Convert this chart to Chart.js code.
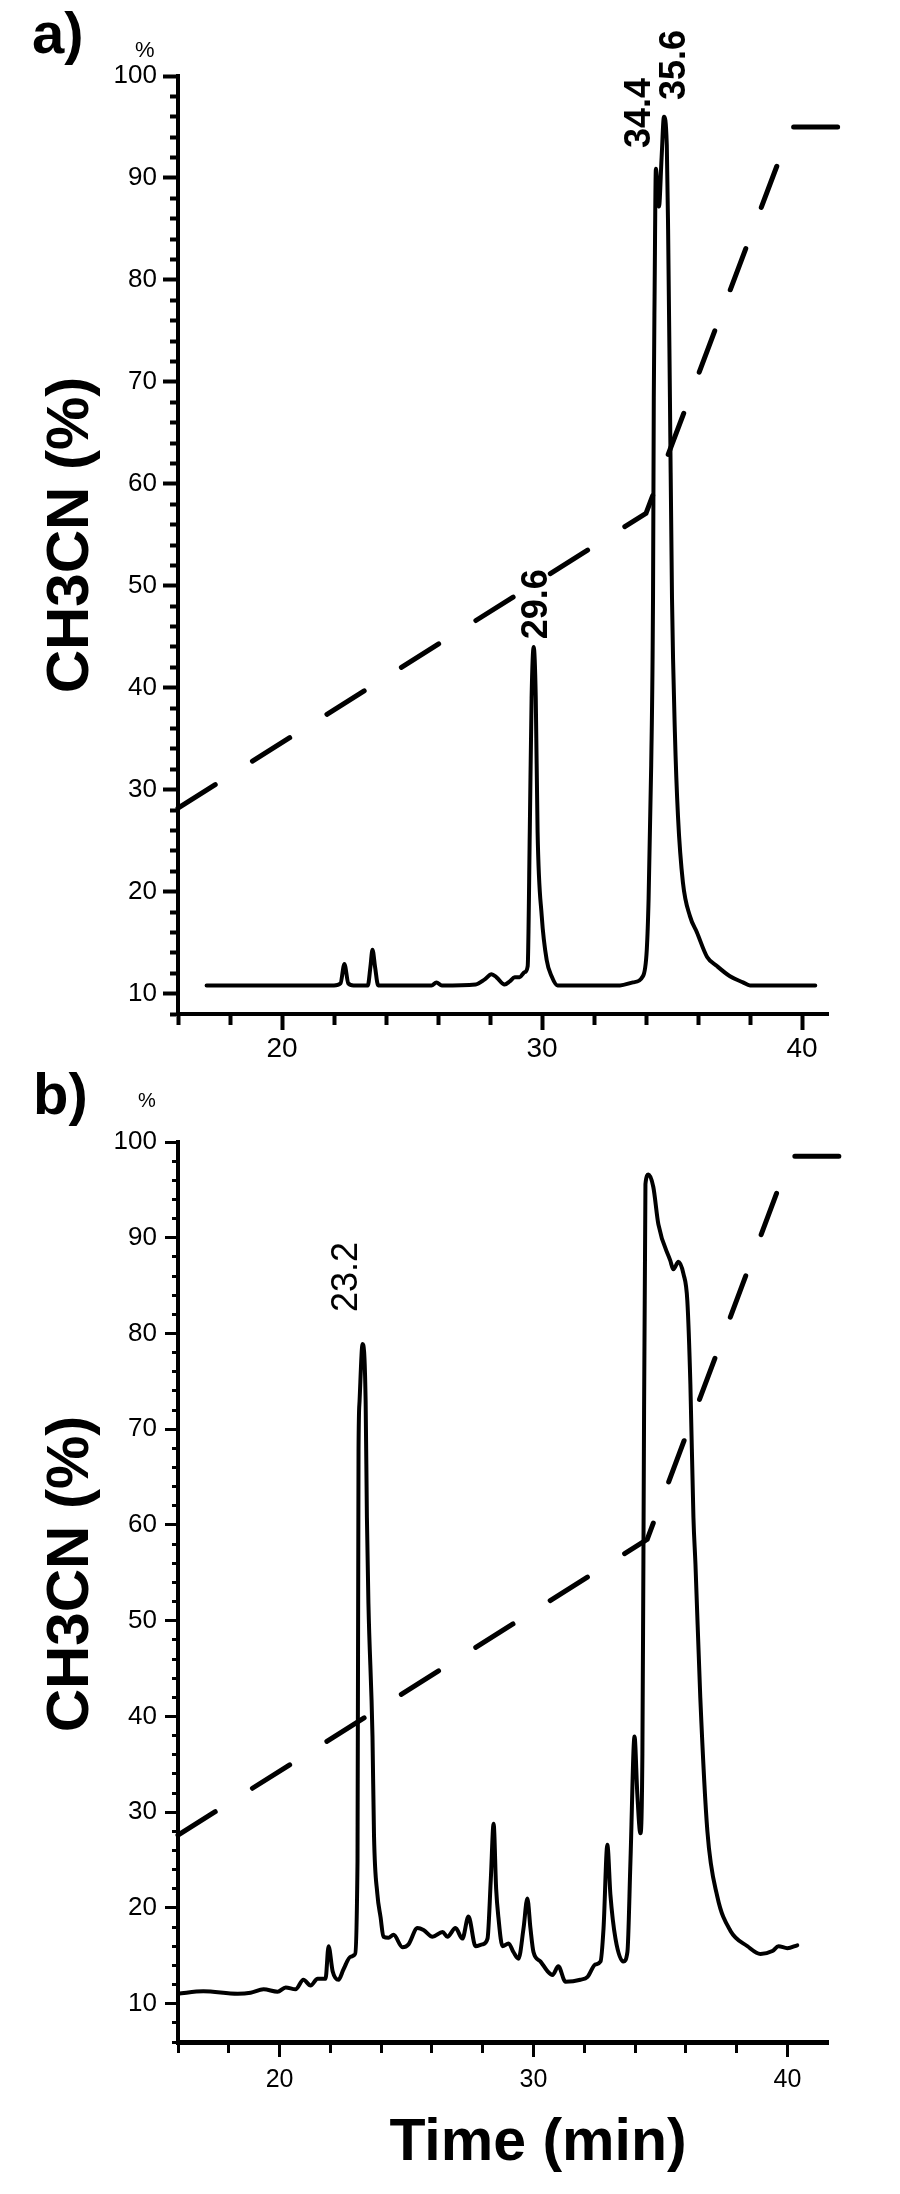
<!DOCTYPE html>
<html>
<head>
<meta charset="utf-8">
<script src="https://cdn.jsdelivr.net/npm/chart.js@4.4.1/dist/chart.umd.min.js"></script>
<style>
  html, body { margin: 0; padding: 0; background: #ffffff; }
  #wrapA { position: absolute; left: 0; top: 0; width: 900px; height: 1062px; }
  #wrapB { position: absolute; left: 0; top: 1062px; width: 900px; height: 1132px; }
  canvas { display: block; }
</style>
</head>
<body>
<div id="wrapA"><canvas id="chartA" width="900" height="1062"></canvas></div>
<div id="wrapB"><canvas id="chartB" width="900" height="1132"></canvas></div>
<script>
// ---------------- DATA ----------------
// Panel a) chromatogram (time in min, signal on % scale)
const timeA = [17.1, 22.0, 22.25, 22.4, 22.55, 22.75, 23.3, 23.4, 23.48, 23.58, 23.7, 25.75, 25.94, 26.15, 27.45, 27.8, 28.06, 28.25, 28.56, 28.76, 28.95, 29.14, 29.33, 29.45, 29.53, 29.6, 29.68, 29.76, 29.83, 29.99, 30.18, 30.37, 30.6, 33.0, 33.5, 33.88, 34.03, 34.1, 34.2, 34.27, 34.3, 34.33, 34.38, 34.5, 34.6, 34.69, 34.8, 34.85, 34.92, 35.0, 35.11, 35.23, 35.42, 35.69, 35.96, 36.35, 36.73, 37.23, 37.73, 38.0, 40.51];
const signalA = [10.8, 10.8, 11.0, 12.9, 11.0, 10.8, 10.8, 12.6, 14.3, 12.6, 10.8, 10.8, 11.1, 10.8, 10.9, 11.4, 11.9, 11.6, 10.9, 11.2, 11.6, 11.6, 12.1, 12.7, 25.9, 39.0, 44.0, 39.0, 25.9, 17.6, 13.3, 11.7, 10.8, 10.8, 11.1, 11.7, 14.3, 19.3, 32.4, 48.8, 68.5, 78.4, 90.9, 87.2, 92.0, 96.0, 93.2, 85.0, 68.5, 48.8, 35.7, 27.4, 20.9, 17.6, 16.0, 13.6, 12.7, 11.7, 11.1, 10.8, 10.8];
// Panel a) CH3CN gradient (dashed)
const gradTimeA = [16, 34.0, 39.6, 42.6];
const gradA = [28.2, 57.1, 95.0, 95.0];
// Panel a) peak labels
const peakTextA = ['29.6', '34.4', '35.6'];
const peakTimeA = [29.81, 33.77, 35.12];
const peakValA = [44.75, 92.93, 97.64];

// Panel b) chromatogram
const timeB = [16.0, 17.0, 18.35, 18.86, 19.37, 19.92, 20.24, 20.63, 20.94, 21.22, 21.5, 21.81, 21.93, 22.09, 22.32, 22.52, 22.8, 22.95, 23.07, 23.11, 23.15, 23.27, 23.39, 23.44, 23.5, 23.66, 23.72, 23.85, 23.98, 24.09, 24.29, 24.49, 24.84, 25.08, 25.43, 25.67, 26.02, 26.42, 26.61, 26.93, 27.2, 27.44, 27.72, 27.99, 28.19, 28.32, 28.43, 28.53, 28.62, 28.78, 29.02, 29.21, 29.41, 29.61, 29.76, 29.88, 30.0, 30.28, 30.55, 30.75, 30.98, 31.26, 31.85, 32.13, 32.44, 32.64, 32.76, 32.91, 33.03, 33.23, 33.54, 33.7, 33.82, 33.98, 34.09, 34.21, 34.29, 34.33, 34.41, 34.53, 34.72, 34.92, 35.39, 35.51, 35.71, 35.91, 36.06, 36.18, 36.3, 36.38, 36.57, 36.85, 37.24, 37.76, 38.43, 38.94, 39.41, 39.65, 40.0, 40.39];
const signalB = [11.05, 11.3, 11.05, 11.15, 11.5, 11.25, 11.7, 11.5, 12.5, 11.9, 12.6, 12.6, 16.0, 13.4, 12.5, 13.6, 14.9, 15.1, 24.9, 67.7, 72.9, 78.9, 72.9, 60.8, 51.8, 37.9, 27.5, 21.5, 19.0, 17.0, 16.9, 17.2, 15.9, 16.2, 17.9, 17.7, 17.0, 17.5, 17.0, 17.9, 16.8, 19.1, 16.0, 16.2, 16.8, 23.0, 28.8, 22.0, 19.0, 16.0, 16.3, 15.4, 14.7, 17.9, 21.0, 17.9, 15.4, 14.4, 13.4, 13.0, 13.9, 12.3, 12.5, 12.8, 14.1, 14.4, 17.9, 26.6, 21.4, 16.8, 14.4, 15.4, 24.9, 37.9, 31.9, 27.8, 36.1, 56.3, 95.6, 96.6, 95.3, 91.4, 87.6, 86.7, 87.5, 86.2, 83.4, 74.7, 60.8, 55.9, 42.0, 28.0, 21.2, 17.6, 16.0, 15.2, 15.5, 16.0, 15.8, 16.1];
// Panel b) CH3CN gradient (dashed)
const gradTimeB = [16, 34.48, 40.12, 43.2];
const gradB = [27.6, 58.5, 98.5, 98.5];
// Panel b) peak labels
const peakTextB = ['23.2'];
const peakTimeB = [22.66];
const peakValB = [82.24];

// Tick values
const xTickValues = [16, 18, 20, 22, 24, 26, 28, 30, 32, 34, 36, 38, 40];
const yTickValuesA = [8, 10, 12, 14, 16, 18, 20, 22, 24, 26, 28, 30, 32, 34, 36, 38, 40, 42, 44, 46, 48, 50, 52, 54, 56, 58, 60, 62, 64, 66, 68, 70, 72, 74, 76, 78, 80, 82, 84, 86, 88, 90, 92, 94, 96, 98, 100];
const yTickValuesB = [6, 8, 10, 12, 14, 16, 18, 20, 22, 24, 26, 28, 30, 32, 34, 36, 38, 40, 42, 44, 46, 48, 50, 52, 54, 56, 58, 60, 62, 64, 66, 68, 70, 72, 74, 76, 78, 80, 82, 84, 86, 88, 90, 92, 94, 96, 98, 100];
const majorEvery = 10;

// Texts
const panelLetters = ['a)', 'b)'];
const unitText = '%';
const yTitle = 'CH3CN (%)';
const xTitle = 'Time (min)';

// ---------------- DRAWING ----------------
const FONT = '"Liberation Sans", Arial, Helvetica, sans-serif';
Chart.defaults.font.family = FONT;
Chart.defaults.color = '#000';

function isMajor(v) { return Math.abs(v % majorEvery) < 1e-6; }

function buildPanel(canvasId, c) {
  const trace = c.time.map((t, i) => ({ x: t, y: c.signal[i] }));
  const grad = c.gradTime.map((t, i) => ({ x: t, y: c.grad[i] }));

  const textPlugin = {
    id: 'panelText_' + canvasId,
    afterDraw(chart) {
      const ctx = chart.ctx;
      const xs = chart.scales.x, ys = chart.scales.y;
      ctx.save();
      ctx.fillStyle = '#000';
      // panel letter
      ctx.font = 'bold 58px ' + FONT;
      ctx.textAlign = 'left';
      ctx.textBaseline = 'alphabetic';
      ctx.fillText(c.letter, c.letterPos[0], c.letterPos[1]);
      // small % unit
      ctx.font = c.unitSize + 'px ' + FONT;
      ctx.fillText(unitText, c.unitPos[0], c.unitPos[1]);
      // y title
      ctx.save();
      ctx.translate(c.yTitlePos[0], c.yTitlePos[1]);
      ctx.rotate(-Math.PI / 2);
      ctx.font = 'bold 60px ' + FONT;
      ctx.textAlign = 'center';
      ctx.textBaseline = 'middle';
      ctx.fillText(yTitle, 0, 0);
      ctx.restore();
      // x title
      if (c.xTitlePos) {
        ctx.font = 'bold 59px ' + FONT;
        ctx.textAlign = 'center';
        ctx.textBaseline = 'alphabetic';
        ctx.fillText(xTitle, c.xTitlePos[0], c.xTitlePos[1]);
      }
      // peak labels (rotated)
      c.peakText.forEach((txt, i) => {
        const px = xs.getPixelForValue(c.peakTime[i]);
        const py = ys.getPixelForValue(c.peakVal[i]);
        ctx.save();
        ctx.translate(px, py);
        ctx.rotate(-Math.PI / 2);
        ctx.font = c.peakFont + ' 36px ' + FONT;
        ctx.textAlign = 'left';
        ctx.textBaseline = 'middle';
        ctx.fillText(txt, 0, 0);
        ctx.restore();
      });
      ctx.restore();
    }
  };

  return new Chart(document.getElementById(canvasId), {
    type: 'line',
    data: {
      datasets: [
        {
          data: trace,
          borderColor: '#000',
          borderWidth: 4,
          pointRadius: 0,
          fill: false,
          cubicInterpolationMode: 'monotone',
          borderJoinStyle: 'round',
          borderCapStyle: 'round',
          clip: false
        },
        {
          data: grad,
          borderColor: '#000',
          borderWidth: 5,
          pointRadius: 0,
          fill: false,
          tension: 0,
          borderDash: [44, 44],
          borderCapStyle: 'round',
          borderJoinStyle: 'miter',
          clip: false
        }
      ]
    },
    options: {
      responsive: false,
      animation: false,
      events: [],
      layout: { padding: { top: c.padTop, right: c.padRight, left: 0, bottom: 0 } },
      plugins: { legend: { display: false }, tooltip: { enabled: false } },
      scales: {
        x: {
          type: 'linear',
          min: 16,
          max: c.xMax,
          afterBuildTicks: (s) => { s.ticks = xTickValues.map(v => ({ value: v })); },
          afterFit: (s) => { s.height = c.xAxisH; },
          border: { display: true, color: '#000', width: c.xBorder },
          grid: {
            drawOnChartArea: false,
            drawTicks: true,
            tickLength: c.xTick[0],
            tickWidth: c.xTickW,
            tickColor: '#000',
            tickBorderDash: (ctx) => (ctx.tick && isMajor(ctx.tick.value)) ? [] : [c.xTick[1], 200]
          },
          ticks: {
            autoSkip: false,
            maxRotation: 0,
            padding: c.xLabelPad,
            font: { size: c.xFont, family: FONT },
            color: '#000',
            callback: (v) => isMajor(v) ? String(v) : ''
          }
        },
        y: {
          type: 'linear',
          min: c.yMin,
          max: 100,
          afterBuildTicks: (s) => { s.ticks = c.yTicks.map(v => ({ value: v })); },
          afterFit: (s) => { s.width = 178; },
          border: { display: true, color: '#000', width: c.yBorder },
          grid: {
            drawOnChartArea: false,
            drawTicks: true,
            tickLength: c.yTick[0],
            tickWidth: c.yTickW,
            tickColor: '#000',
            tickBorderDash: (ctx) => (ctx.tick && isMajor(ctx.tick.value)) ? [] : [0, c.yTick[0] - c.yBorder / 2 - c.yTick[1], c.yTick[1], 200]
          },
          ticks: {
            autoSkip: false,
            padding: c.yLabelPad,
            font: { size: c.yFont, family: FONT },
            color: '#000',
            callback: (v) => isMajor(v) ? String(v) : ''
          }
        }
      }
    },
    plugins: [textPlugin]
  });
}

buildPanel('chartA', {
  time: timeA, signal: signalA, gradTime: gradTimeA, grad: gradA,
  peakText: peakTextA, peakTime: peakTimeA, peakVal: peakValA, peakFont: 'bold',
  letter: panelLetters[0], letterPos: [32, 53],
  unitSize: 22, unitPos: [135, 57],
  yTitlePos: [71, 535], xTitlePos: null,
  padTop: 76, padRight: 72, xAxisH: 1062 - 1014, xMax: 41, yMin: 8, yTicks: yTickValuesA,
  xBorder: 4, yBorder: 4, xTick: [16, 9], xTickW: 4, yTick: [15, 6], yTickW: 4,
  xFont: 28, yFont: 26, xLabelPad: 2, yLabelPad: 6
});

buildPanel('chartB', {
  time: timeB, signal: signalB, gradTime: gradTimeB, grad: gradB,
  peakText: peakTextB, peakTime: peakTimeB, peakVal: peakValB, peakFont: 'normal',
  letter: panelLetters[1], letterPos: [33, 52],
  unitSize: 20, unitPos: [138, 45],
  yTitlePos: [71, 512], xTitlePos: [538, 1098],
  padTop: 80, padRight: 72, xAxisH: 1132 - 980, xMax: 41.6, yMin: 6, yTicks: yTickValuesB,
  xBorder: 5, yBorder: 4, xTick: [15, 8], xTickW: 3, yTick: [13, 4], yTickW: 3,
  xFont: 25, yFont: 26, xLabelPad: 8, yLabelPad: 8
});
</script>
</body>
</html>
